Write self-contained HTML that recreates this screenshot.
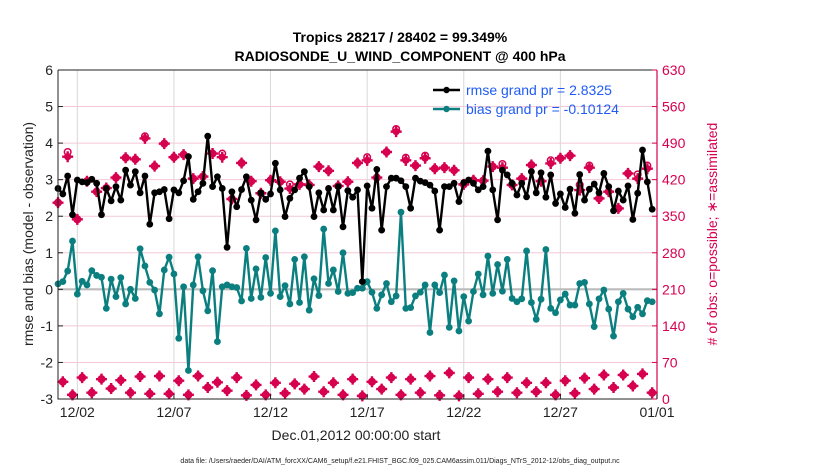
<!DOCTYPE html>
<html><head><meta charset="utf-8">
<style>
html,body{margin:0;padding:0;background:#fff;}
svg{display:block;font-family:"Liberation Sans",Arial,sans-serif;}
</style></head>
<body>
<svg id="chart" width="830" height="470" viewBox="0 0 830 470">
<text x="400" y="42" text-anchor="middle" font-size="14" font-weight="bold">Tropics 28217 / 28402 = 99.349%</text>
<text x="400" y="61" text-anchor="middle" font-size="14" font-weight="bold">RADIOSONDE_U_WIND_COMPONENT @ 400 hPa</text>
<g id="grid"></g>
<g id="series"></g>
<g id="axes"></g>
<text x="0" y="0" transform="translate(33,234) rotate(-90)" text-anchor="middle" font-size="14" fill="#222">rmse and bias (model - observation)</text>
<text x="0" y="0" transform="translate(717,234) rotate(-90)" text-anchor="middle" font-size="14" fill="#d6004f"># of obs: o=possible; &#8727;=assimilated</text>
<text x="356" y="440" text-anchor="middle" font-size="14" fill="#222">Dec.01,2012 00:00:00 start</text>
<text x="400" y="463" text-anchor="middle" font-size="7" fill="#222">data file: /Users/raeder/DAI/ATM_forcXX/CAM6_setup/f.e21.FHIST_BGC.f09_025.CAM6assim.011/Diags_NTrS_2012-12/obs_diag_output.nc</text>
<g>
 <line x1="433" y1="90" x2="460" y2="90" stroke="#000" stroke-width="2.5"/>
 <circle cx="446.5" cy="90" r="3.2" fill="#000"/>
 <text x="466" y="95" font-size="14" fill="#1f5cf5">rmse grand pr = 2.8325</text>
 <line x1="433" y1="109" x2="460" y2="109" stroke="#0b7f7f" stroke-width="2.5"/>
 <circle cx="446.5" cy="109" r="3.2" fill="#0b7f7f"/>
 <text x="466" y="114" font-size="14" fill="#1f5cf5">bias grand pr = -0.10124</text>
</g>
</svg>
<script>
const xTickLabels = ["12/02","12/07","12/12","12/17","12/22","12/27","01/01"];
const xTickDays = [1,6,11,16,21,26,31];
const yTicksLeft = [-3,-2,-1,0,1,2,3,4,5,6];
const yTicksRight = [0,70,140,210,280,350,420,490,560,630];
const rmse = [2.76,2.61,3.10,2.04,2.99,2.94,2.92,3.01,2.90,2.04,2.76,2.42,2.81,2.44,3.26,2.85,3.22,2.64,3.10,1.78,2.64,2.67,2.73,1.93,2.72,2.64,2.97,3.63,2.46,2.67,2.90,4.19,2.81,
3.08,2.76,1.15,2.67,2.26,2.73,3.08,2.44,1.90,2.64,2.46,2.61,3.45,2.72,1.99,2.49,2.72,3.04,3.22,2.81,1.99,2.64,2.17,2.76,2.17,2.81,1.71,2.70,2.52,2.72,
0.21,2.83,2.22,3.28,1.62,2.81,3.04,3.04,2.97,2.81,2.22,3.04,2.96,2.92,2.85,2.69,1.62,2.81,2.81,2.90,2.40,2.92,2.99,2.90,2.72,2.81,3.78,2.72,1.90,3.26,3.13,2.90,
2.58,2.90,2.53,3.22,2.64,3.19,2.52,3.13,2.35,2.61,2.24,2.74,2.08,3.14,2.44,2.74,2.88,2.64,3.17,2.81,2.15,2.69,2.44,2.83,1.91,2.63,3.81,2.94,2.19];
const bias = [0.15,0.21,0.50,1.32,-0.13,0.22,0.12,0.51,0.38,0.33,-0.52,0.28,-0.20,0.32,-0.40,0,-0.25,1.11,0.64,0.19,-0.02,-0.67,0.53,0.88,0.42,-1.34,0.07,-2.22,0.12,0.89,-0.04,-0.59,0.51,
-1.43,0.07,0.12,0.07,0.05,-0.32,1.12,-0.25,0.56,-0.22,0.87,-0.11,1.60,-0.20,0.10,-0.40,0.82,-0.36,0.89,-0.57,0.29,-0.17,1.65,0.16,0.53,-0.06,1.00,-0.11,-0.09,0.03,
0.03,0.21,-0.08,-0.52,-0.15,0.16,-0.34,-0.18,2.11,-0.52,-0.50,-0.18,-0.08,0.12,-1.18,0.12,-0.09,0.39,-1.04,0.23,-1.14,-0.20,-0.87,-0.06,0.42,-0.15,0.91,-0.11,0.68,-0.05,0.82,-0.25,
-0.34,-0.26,1.05,-0.36,-0.82,-0.27,1.09,-0.52,-0.64,-0.29,-0.13,-0.43,-0.43,0.16,0.19,-0.40,-1.02,-0.26,-0.02,-0.54,-1.28,-0.34,-0.11,-0.54,-0.75,-0.49,-0.67,-0.31,-0.34];
const assimilated = [376,33,464,8,344,41,417,12,397,38,404,20,424,36,462,12,459,43,499,10,446,44,489,10,463,35,468,8,422,44,426,22,
470,32,463,16,383,41,452,7,417,27,394,8,419,31,416,11,403,29,411,19,410,43,445,14,437,31,408,8,416,38,452,6,
457,33,424,19,473,41,512,8,457,38,447,12,461,44,441,7,443,50,438,6,411,41,419,10,418,38,445,14,443,41,410,12,
422,31,448,14,417,31,451,8,461,35,466,11,400,40,443,19,384,46,397,22,365,46,432,25,422,48,441,12];
const possible = [376,33,473,8,344,41,417,12,397,38,404,20,424,36,462,12,459,43,503,10,446,44,489,10,463,35,468,8,422,44,426,22,
470,32,470,16,383,41,452,7,417,27,394,8,419,31,416,11,411,29,411,19,410,43,445,14,437,31,408,8,416,38,452,6,
463,33,424,19,473,41,517,8,462,38,447,12,466,44,441,7,443,50,438,6,411,41,419,10,418,38,445,14,450,41,410,12,
422,31,448,14,417,31,457,8,461,35,466,11,410,40,447,19,384,46,397,22,365,46,432,25,430,48,447,12];

const NS="http://www.w3.org/2000/svg";
const L=58,R=657,T=70,B=399;
const xDay=d=>L+(R-L)*d/31;
const yL=v=>T+(6-v)/9*(B-T);
const yR=v=>B-v/630*(B-T);
const pink="#d6004f",teal="#0b7f7f";
function mk(tag,attrs,parent){const e=document.createElementNS(NS,tag);for(const k in attrs)e.setAttribute(k,attrs[k]);parent.appendChild(e);return e;}
const grid=document.getElementById('grid'),ser=document.getElementById('series'),ax=document.getElementById('axes');

yTicksRight.forEach((v,i)=>{
  if(i===0||i===yTicksRight.length-1)return;
  const g=mk('line',{x1:L,x2:R,y1:yR(v),y2:yR(v),stroke:"#f4c8d8","stroke-width":1},grid);
  
  
});
xTickDays.forEach((d,i)=>{
  const g=mk('line',{x1:xDay(d),x2:xDay(d),y1:T,y2:B,stroke:"#d8d8d8","stroke-width":1},grid);
  
  
});
const zl=mk('line',{x1:L,x2:R,y1:yL(0),y2:yL(0),stroke:"#bbbbbb","stroke-width":2.2},grid);



// obs count markers
possible.forEach((v,i)=>{
  const c=mk('circle',{cx:xDay(i*0.25),cy:yR(v),r:3.3,fill:"none",stroke:pink,"stroke-width":1.5},ser);
  
  
});
assimilated.forEach((v,i)=>{
  const x=xDay(i*0.25),y=yR(v);
  const g=mk('g',{},ser);
  
  
  mk('circle',{cx:x,cy:y,r:3.6,fill:pink},g);
  mk('path',{d:`M${x-5.5},${y}H${x+5.5}M${x},${y-5.5}V${y+5.5}`,stroke:pink,"stroke-width":2.4},g);
});

function series(vals,color,name){
  const pts=vals.map((v,i)=>`${xDay(i*0.25).toFixed(2)},${yL(v).toFixed(2)}`).join(' ');
  const pl=mk('polyline',{points:pts,fill:"none",stroke:color,"stroke-width":2.4,"stroke-linejoin":"round"},ser);
  
  
  vals.forEach((v,i)=>{
    const c=mk('circle',{cx:xDay(i*0.25),cy:yL(v),r:3.4,fill:color},ser);
    
    
  });
}
series(bias,teal,'bias');
series(rmse,"#000",'rmse');

// axes box
const lb=mk('path',{d:`M${L},${T}V${B}H${R}`,stroke:"#222",fill:"none","stroke-width":1},ax);


const tp=mk('line',{x1:L,x2:R,y1:T,y2:T,stroke:"#222","stroke-width":1},ax);


const ra=mk('line',{x1:R,x2:R,y1:T,y2:B,stroke:pink,"stroke-width":1.2},ax);



yTicksLeft.forEach(v=>{
  mk('line',{x1:L,x2:L+5,y1:yL(v),y2:yL(v),stroke:"#222"},ax);
  const t=mk('text',{x:L-5,y:yL(v)+5,"text-anchor":"end","font-size":14,fill:"#222"},ax);
  t.textContent=v;
  
  
});
yTicksRight.forEach(v=>{
  mk('line',{x1:R-5,x2:R,y1:yR(v),y2:yR(v),stroke:pink},ax);
  const t=mk('text',{x:R+5,y:yR(v)+5,"font-size":14,fill:pink},ax);
  t.textContent=v;
  
  
});
xTickDays.forEach((d,i)=>{
  mk('line',{x1:xDay(d),x2:xDay(d),y1:B,y2:B-5,stroke:"#222"},ax);
  const t=mk('text',{x:xDay(d),y:B+18,"text-anchor":"middle","font-size":14,fill:"#222"},ax);
  t.textContent=xTickLabels[i];
  
  
});
</script>
</body></html>
